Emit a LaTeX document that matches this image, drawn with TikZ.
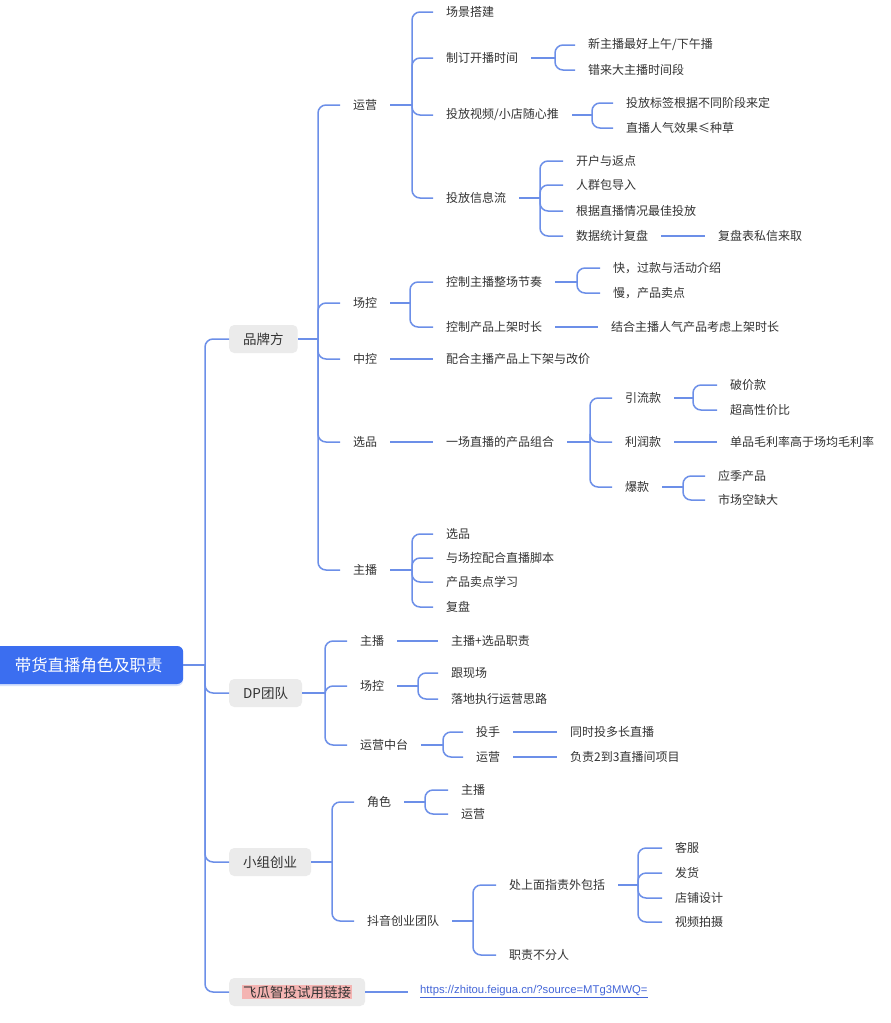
\documentclass[tikz,border=0pt]{standalone}
\usepackage{fontspec}
\setmainfont{Noto Sans CJK SC}
\newfontfamily\linkfont{Liberation Sans}
\usetikzlibrary{positioning, shadows}
\definecolor{rootBlue}{HTML}{3B6EF0}
\definecolor{lineBlue}{HTML}{6C8FE8}
\definecolor{topicGray}{HTML}{EBEBEB}
\definecolor{textDark}{HTML}{333333}
\definecolor{hlPink}{HTML}{F4B4B2}
\definecolor{linkBlue}{HTML}{4466D8}
\setlength{\fboxsep}{1pt}
\tikzset{
  branch/.style={draw=lineBlue, line width=1.5pt, rounded corners=8pt},
  rootbox/.style={rectangle, rounded corners=6pt, fill=rootBlue, text=white,
                  font=\fontsize{16.4}{19}\selectfont, minimum width=189pt,
                  minimum height=38pt, anchor=west,
                  drop shadow={opacity=0.2, shadow xshift=0pt, shadow yshift=-2pt, fill=rootBlue}},
  topic/.style={rectangle, rounded corners=5pt, fill=topicGray, text=textDark,
                font=\fontsize{13.5}{16}\selectfont, inner xsep=14pt,
                minimum height=28pt, anchor=west},
  leaf/.style={text=textDark, font=\fontsize{12}{14}\selectfont,
               inner xsep=13pt, inner ysep=2pt, anchor=west},
}

\begin{document}
\begin{tikzpicture}[x=1pt, y=-1pt]
  \useasboundingbox[fill=white] (0,0) rectangle (891,1023);

  % root and main topics
  \node[rootbox] (root) at (-6,665) {带货直播角色及职责};
  \node[topic] (brand) at (229,339) {品牌方};
  \node[topic] (dp) at (229,693) {DP团队};
  \node[topic] (team) at (229,862) {小组创业};
  \node[topic, inner xsep=13pt] (trial) at (229,992) {\colorbox{hlPink}{飞瓜智投试用链接}};
  \coordinate (jroot) at (205,665);
  \draw[branch] (root.east) -- (jroot);
  \foreach \t in {brand,dp,team,trial} \draw[branch] (jroot) |- (\t.west);

  % 品牌方
  \node[leaf] (ops) at (340,105) {运营};
  \node[leaf] (field) at (340,303) {场控};
  \node[leaf] (mid) at (340,359) {中控};
  \node[leaf] (pick) at (340,442) {选品};
  \node[leaf] (host) at (340,570) {主播};
  \coordinate (jbrand) at (318,339);
  \draw[branch] (brand.east) -- (jbrand);
  \foreach \c in {ops,field,mid,pick,host} \draw[branch] (jbrand) |- (\c.west);

  % 运营
  \node[leaf] (scene) at (433,12) {场景搭建};
  \node[leaf] (sched) at (433,58) {制订开播时间};
  \node[leaf] (video) at (433,115) {投放视频/小店随心推};
  \node[leaf] (feed) at (433,198) {投放信息流};
  \coordinate (jops) at (412,105);
  \draw[branch] (ops.east) -- (jops);
  \foreach \c in {scene,sched,video,feed} \draw[branch] (jops) |- (\c.west);

  \node[leaf] (newhost) at (575,45) {新主播最好上午/下午播};
  \node[leaf] (avoid) at (575,70) {错来大主播时间段};
  \coordinate (jsched) at (555,58);
  \draw[branch] (sched.east) -- (jsched);
  \foreach \c in {newhost,avoid} \draw[branch] (jsched) |- (\c.west);

  \node[leaf] (tag) at (613,103) {投放标签根据不同阶段来定};
  \node[leaf] (pop) at (613,128) {直播人气效果≤种草};
  \coordinate (jvideo) at (592,115);
  \draw[branch] (video.east) -- (jvideo);
  \foreach \c in {tag,pop} \draw[branch] (jvideo) |- (\c.west);

  \node[leaf] (acct) at (563,161) {开户与返点};
  \node[leaf] (crowd) at (563,185) {人群包导入};
  \node[leaf] (best) at (563,211) {根据直播情况最佳投放};
  \node[leaf] (stats) at (563,236) {数据统计复盘};
  \node[leaf] (sheet) at (705,236) {复盘表私信来取};
  \coordinate (jfeed) at (540,198);
  \draw[branch] (feed.east) -- (jfeed);
  \foreach \c in {acct,crowd,best,stats} \draw[branch] (jfeed) |- (\c.west);
  \draw[branch] (stats.east) -- (sheet.west);

  % 场控 / 中控
  \node[leaf] (rhythm) at (433,282) {控制主播整场节奏};
  \node[leaf] (shelf) at (433,327) {控制产品上架时长};
  \coordinate (jfield) at (410,303);
  \draw[branch] (field.east) -- (jfield);
  \foreach \c in {rhythm,shelf} \draw[branch] (jfield) |- (\c.west);
  \node[leaf] (fast) at (600,268) {快，过款与活动介绍};
  \node[leaf] (slow) at (600,293) {慢，产品卖点};
  \coordinate (jrhythm) at (577,282);
  \draw[branch] (rhythm.east) -- (jrhythm);
  \foreach \c in {fast,slow} \draw[branch] (jrhythm) |- (\c.west);
  \node[leaf] (shelfhint) at (598,327) {结合主播人气产品考虑上架时长};
  \draw[branch] (shelf.east) -- (shelfhint.west);
  \node[leaf] (price) at (433,359) {配合主播产品上下架与改价};
  \draw[branch] (mid.east) -- (price.west);

  % 选品
  \node[leaf] (combo) at (433,442) {一场直播的产品组合};
  \draw[branch] (pick.east) -- (combo.west);
  \node[leaf] (traffic) at (612,398) {引流款};
  \node[leaf] (profit) at (612,442) {利润款};
  \node[leaf] (hot) at (612,487) {爆款};
  \coordinate (jcombo) at (590,442);
  \draw[branch] (combo.east) -- (jcombo);
  \foreach \c in {traffic,profit,hot} \draw[branch] (jcombo) |- (\c.west);
  \node[leaf] (cut) at (717,385) {破价款};
  \node[leaf] (value) at (717,410) {超高性价比};
  \coordinate (jtraffic) at (693,398);
  \draw[branch] (traffic.east) -- (jtraffic);
  \foreach \c in {cut,value} \draw[branch] (jtraffic) |- (\c.west);
  \node[leaf] (margin) at (717,442) {单品毛利率高于场均毛利率};
  \draw[branch] (profit.east) -- (margin.west);
  \node[leaf] (season) at (705,476) {应季产品};
  \node[leaf] (gap) at (705,500) {市场空缺大};
  \coordinate (jhot) at (683,487);
  \draw[branch] (hot.east) -- (jhot);
  \foreach \c in {season,gap} \draw[branch] (jhot) |- (\c.west);

  % 主播
  \node[leaf] (hpick) at (433,534) {选品};
  \node[leaf] (script) at (433,558) {与场控配合直播脚本};
  \node[leaf] (learn) at (433,582) {产品卖点学习};
  \node[leaf] (review) at (433,607) {复盘};
  \coordinate (jhost) at (412,570);
  \draw[branch] (host.east) -- (jhost);
  \foreach \c in {hpick,script,learn,review} \draw[branch] (jhost) |- (\c.west);

  % DP团队
  \node[leaf] (dhost) at (347,641) {主播};
  \node[leaf] (dfield) at (347,686) {场控};
  \node[leaf] (dmid) at (347,745) {运营中台};
  \coordinate (jdp) at (325,693);
  \draw[branch] (dp.east) -- (jdp);
  \foreach \c in {dhost,dfield,dmid} \draw[branch] (jdp) |- (\c.west);
  \node[leaf] (dduty) at (438,641) {主播+选品职责};
  \draw[branch] (dhost.east) -- (dduty.west);
  \node[leaf] (onsite) at (438,673) {跟现场};
  \node[leaf] (execute) at (438,699) {落地执行运营思路};
  \coordinate (jdfield) at (418,686);
  \draw[branch] (dfield.east) -- (jdfield);
  \foreach \c in {onsite,execute} \draw[branch] (jdfield) |- (\c.west);
  \node[leaf] (buyer) at (463,732) {投手};
  \node[leaf] (dops) at (463,757) {运营};
  \coordinate (jdmid) at (443,745);
  \draw[branch] (dmid.east) -- (jdmid);
  \foreach \c in {buyer,dops} \draw[branch] (jdmid) |- (\c.west);
  \node[leaf] (multi) at (557,732) {同时投多长直播};
  \node[leaf] (rooms) at (557,757) {负责2到3直播间项目};
  \draw[branch] (buyer.east) -- (multi.west);
  \draw[branch] (dops.east) -- (rooms.west);

  % 小组创业
  \node[leaf] (role) at (354,802) {角色};
  \node[leaf] (douyin) at (354,921) {抖音创业团队};
  \coordinate (jteam) at (332,862);
  \draw[branch] (team.east) -- (jteam);
  \foreach \c in {role,douyin} \draw[branch] (jteam) |- (\c.west);
  \node[leaf] (rhost) at (448,790) {主播};
  \node[leaf] (rops) at (448,814) {运营};
  \coordinate (jrole) at (425,802);
  \draw[branch] (role.east) -- (jrole);
  \foreach \c in {rhost,rops} \draw[branch] (jrole) |- (\c.west);
  \node[leaf] (extra) at (496,885) {处上面指责外包括};
  \node[leaf] (shared) at (496,955) {职责不分人};
  \coordinate (jdouyin) at (473,921);
  \draw[branch] (douyin.east) -- (jdouyin);
  \foreach \c in {extra,shared} \draw[branch] (jdouyin) |- (\c.west);
  \node[leaf] (service) at (662,848) {客服};
  \node[leaf] (ship) at (662,873) {发货};
  \node[leaf] (design) at (662,898) {店铺设计};
  \node[leaf] (shoot) at (662,922) {视频拍摄};
  \coordinate (jextra) at (638,885);
  \draw[branch] (extra.east) -- (jextra);
  \foreach \c in {service,ship,design,shoot} \draw[branch] (jextra) |- (\c.west);

  % 试用链接
  \node[leaf, text=linkBlue, font=\linkfont\fontsize{11.3}{13}\selectfont, inner xsep=12pt]
    (link) at (408,992) {\underline{https://zhitou.feigua.cn/?source=MTg3MWQ=}};
  \draw[branch] (trial.east) -- (link.west);
\end{tikzpicture}
\end{document}
